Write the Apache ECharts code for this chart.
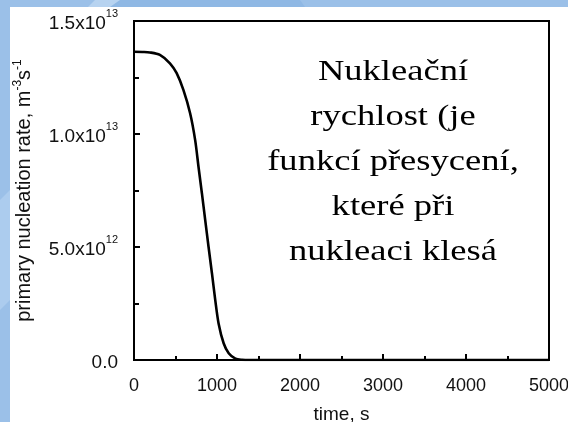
<!DOCTYPE html>
<html>
<head>
<meta charset="utf-8">
<script src="https://cdn.jsdelivr.net/npm/echarts@6/dist/echarts.min.js"></script>
<style>
html,body{margin:0;padding:0;background:#fff;}
#chart{width:568px;height:422px;}
</style>
</head>
<body>
<div id="chart"></div>
<script>
// time, s
var times = [0, 100, 190, 312, 433, 514, 595, 676, 737, 777, 818, 858, 898, 939, 979, 1019, 1080, 1141, 1222, 1300, 1400, 2000, 3000, 4000, 5000];
// primary nucleation rate, m^-3 s^-1
var rates = [13.64e12, 13.63e12, 13.61e12, 13.50e12, 13.13e12, 12.69e12, 11.95e12, 10.92e12, 9.73e12, 8.55e12, 7.38e12, 6.19e12, 5.01e12, 3.84e12, 2.65e12, 1.62e12, 0.74e12, 0.30e12, 0.06e12, 0.01e12, 0, 0, 0, 0, 0];

var xTickLabels = ['0', '1000', '2000', '3000', '4000', '5000'];
var yTickMantissas = ['0.0', '5.0x10', '1.0x10', '1.5x10'];
var yTickExponents = ['', '12', '13', '13'];
var yTickValues = [0, 5e12, 1e13, 1.5e13];

var annotationLines = ['Nukleační', 'rychlost (je', 'funkcí přesycení,', 'které při', 'nukleaci klesá'];

var seriesData = times.map(function (t, i) { return [t, rates[i]]; });

var chart = echarts.init(document.getElementById('chart'), null, {renderer: 'canvas'});
var labelFont = '"Liberation Sans", Arial, Helvetica, sans-serif';

chart.setOption({
  backgroundColor: '#9bc0e8',
  animation: false,
  graphic: {
    elements: [
      {type: 'polygon', z: -20, shape: {points: [[95, 0], [125, 0], [115, 7], [88, 7]]}, style: {fill: '#b7d3f0'}},
      {type: 'polygon', z: -20, shape: {points: [[120, 0], [300, 0], [305, 7], [110, 7]]}, style: {fill: '#8fb8e4'}},
      {type: 'polygon', z: -20, shape: {points: [[0, 200], [10, 190], [10, 300], [0, 310]]}, style: {fill: '#acccee'}},
      {type: 'rect', z: -10, shape: {x: 10, y: 7, width: 558, height: 415}, style: {fill: '#ffffff'}},
      {
        type: 'text', z: 100,
        x: 393, y: 162.5, scaleX: 1.26,
        style: {
          text: annotationLines.join('\n'),
          x: 0, y: 0,
          font: '29px "Liberation Serif", "Times New Roman", serif',
          fill: '#000',
          align: 'center',
          verticalAlign: 'middle',
          lineHeight: 45
        }
      }
    ]
  },
  grid: {
    left: 134, right: 19, top: 21, bottom: 62,
    containLabel: false, outerBoundsMode: 'none',
    show: true, borderColor: '#000', borderWidth: 2, backgroundColor: 'transparent'
  },
  xAxis: {
    type: 'value', min: 0, max: 5000, interval: 1000,
    name: 'time, s', nameLocation: 'middle', nameGap: 45,
    nameTextStyle: {fontFamily: labelFont, fontSize: 19, color: '#111'},
    axisLine: {show: true, lineStyle: {color: '#000', width: 2}},
    axisTick: {show: true, inside: true, length: 6, lineStyle: {color: '#000', width: 2}},
    minorTick: {show: true, splitNumber: 2, length: 4, lineStyle: {color: '#000', width: 2}},
    splitLine: {show: false},
    axisLabel: {
      margin: 17, fontFamily: labelFont, fontSize: 18, color: '#111',
      formatter: function (v) { return xTickLabels[Math.round(v / 1000)]; }
    }
  },
  yAxis: {
    type: 'value', min: 0, max: 1.5e13, interval: 5e12,
    name: 'primary nucleation rate, m{s|-3}s{s|-1}', nameLocation: 'middle', nameGap: 98,
    nameTextStyle: {
      fontFamily: labelFont, fontSize: 20, color: '#111',
      rich: {s: {fontFamily: labelFont, fontSize: 12, color: '#111', verticalAlign: 'top', lineHeight: 24}}
    },
    axisLine: {show: true, lineStyle: {color: '#000', width: 2}},
    axisTick: {show: true, inside: true, length: 6, lineStyle: {color: '#000', width: 2}},
    minorTick: {show: true, splitNumber: 2, length: 5, lineStyle: {color: '#000', width: 2}},
    splitLine: {show: false},
    axisLabel: {
      margin: 16, fontFamily: labelFont, fontSize: 19, color: '#111',
      formatter: function (v) {
        var i = yTickValues.indexOf(v);
        if (i < 0) return '';
        if (!yTickExponents[i]) return '{b|' + yTickMantissas[i] + '}';
        return '{b|' + yTickMantissas[i] + '}{s|' + yTickExponents[i] + '}';
      },
      rich: {
        b: {fontFamily: labelFont, fontSize: 19, color: '#111', verticalAlign: 'bottom', lineHeight: 25},
        s: {fontFamily: labelFont, fontSize: 11, color: '#111', verticalAlign: 'top', lineHeight: 25}
      }
    }
  },
  series: [{
    type: 'line',
    data: seriesData,
    smooth: 0.3,
    symbol: 'none',
    clip: true,
    lineStyle: {color: '#000', width: 2.6}
  }]
});
</script>
</body>
</html>
